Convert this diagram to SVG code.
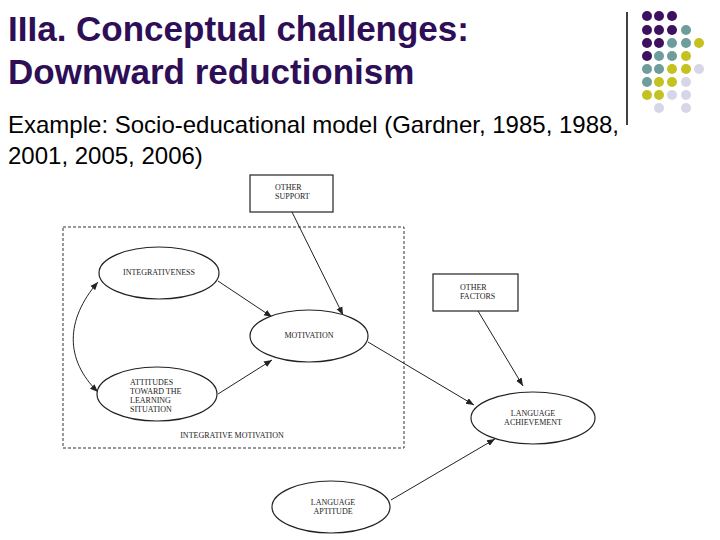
<svg xmlns="http://www.w3.org/2000/svg" width="720" height="540" viewBox="0 0 720 540">
<style>
.t{font-family:"Liberation Sans",Arial,sans-serif;font-size:35px;font-weight:bold;fill:#2e0e56}
.s{font-family:"Liberation Sans",Arial,sans-serif;font-size:24px;fill:#000}
.n{font-family:"Liberation Serif","Times New Roman",serif;font-size:8px;fill:#222}
.sh{fill:#fff;stroke:#222;stroke-width:1.2}
.c{stroke:#222;stroke-width:1;fill:none;marker-end:url(#a)}
.P{fill:#3d1060}.T{fill:#6f9c9c}.Y{fill:#c4c220}.L{fill:#d6d6e8}
</style>
<defs><marker id="a" viewBox="0 0 10 10" refX="10" refY="5" markerWidth="8" markerHeight="8" orient="auto-start-reverse"><path d="M0,1L10,5L0,9z" fill="#222"/></marker></defs>
<rect width="720" height="540" fill="#fff"/>
<text class="t" x="8" y="41">IIIa. Conceptual challenges:</text>
<text class="t" x="8" y="84">Downward reductionism</text>
<text class="s" x="8" y="133">Example: Socio-educational model (Gardner, 1985, 1988,</text>
<text class="s" x="8" y="164">2001, 2005, 2006)</text>
<line x1="627" y1="12" x2="627" y2="125" stroke="#000" stroke-width="1.5"/>
<g id="dots">
<circle class="P" cx="647" cy="16" r="5"/><circle class="P" cx="659" cy="16" r="5"/><circle class="P" cx="672" cy="16" r="5"/>
<circle class="P" cx="647" cy="30" r="5"/><circle class="P" cx="659" cy="30" r="5"/><circle class="P" cx="672" cy="30" r="5"/><circle class="T" cx="686" cy="30" r="5"/>
<circle class="P" cx="647" cy="43" r="5"/><circle class="P" cx="659" cy="43" r="5"/><circle class="T" cx="672" cy="43" r="5"/><circle class="T" cx="686" cy="43" r="5"/><circle class="Y" cx="699" cy="43" r="5"/>
<circle class="P" cx="647" cy="56" r="5"/><circle class="T" cx="659" cy="56" r="5"/><circle class="T" cx="672" cy="56" r="5"/><circle class="Y" cx="686" cy="56" r="5"/>
<circle class="T" cx="647" cy="69" r="5"/><circle class="T" cx="659" cy="69" r="5"/><circle class="Y" cx="672" cy="69" r="5"/><circle class="Y" cx="686" cy="69" r="5"/><circle class="L" cx="699" cy="69" r="5"/>
<circle class="T" cx="647" cy="82" r="5"/><circle class="Y" cx="659" cy="82" r="5"/><circle class="Y" cx="672" cy="82" r="5"/><circle class="L" cx="686" cy="82" r="5"/>
<circle class="Y" cx="647" cy="95" r="5"/><circle class="Y" cx="659" cy="95" r="5"/><circle class="L" cx="672" cy="95" r="5"/><circle class="L" cx="686" cy="95" r="5"/>
<circle class="L" cx="659" cy="108" r="5"/><circle class="L" cx="686" cy="108" r="5"/>
</g>
<rect x="63" y="227" width="341" height="221" fill="none" stroke="#333" stroke-dasharray="3,2"/>
<text class="n" x="232" y="438" text-anchor="middle">INTEGRATIVE MOTIVATION</text>
<g id="connectors">
<path class="c" d="M292,212L343,315"/>
<path class="c" d="M218,281L272,317"/>
<path class="c" d="M218,394L272,360"/>
<path class="c" d="M368,342L474,405"/>
<path class="c" d="M478,311L523,386"/>
<path class="c" d="M391,500L495,439"/>
<path class="c" d="M98,282C65,320 65,360 98,392" marker-start="url(#a)"/>
</g>
<g id="other-support"><rect class="sh" x="250" y="175" width="83" height="37"/><text class="n" x="275" y="190">OTHER</text><text class="n" x="275" y="199">SUPPORT</text></g>
<g id="integrativeness"><ellipse class="sh" cx="159" cy="273" rx="60" ry="26"/><text class="n" x="159" y="275" text-anchor="middle">INTEGRATIVENESS</text></g>
<g id="motivation"><ellipse class="sh" cx="309" cy="336" rx="59" ry="26"/><text class="n" x="309" y="338" text-anchor="middle">MOTIVATION</text></g>
<g id="attitudes"><ellipse class="sh" cx="157" cy="394" rx="60" ry="27"/><text class="n" x="130" y="385">ATTITUDES</text><text class="n" x="130" y="394">TOWARD THE</text><text class="n" x="130" y="403">LEARNING</text><text class="n" x="130" y="412">SITUATION</text></g>
<g id="other-factors"><rect class="sh" x="433" y="274" width="85" height="37"/><text class="n" x="460" y="290">OTHER</text><text class="n" x="460" y="299">FACTORS</text></g>
<g id="achievement"><ellipse class="sh" cx="533" cy="418" rx="62" ry="26"/><text class="n" x="533" y="416" text-anchor="middle">LANGUAGE</text><text class="n" x="533" y="425" text-anchor="middle">ACHIEVEMENT</text></g>
<g id="aptitude"><ellipse class="sh" cx="331" cy="507" rx="59" ry="26"/><text class="n" x="333" y="505" text-anchor="middle">LANGUAGE</text><text class="n" x="333" y="514" text-anchor="middle">APTITUDE</text></g>
</svg>
